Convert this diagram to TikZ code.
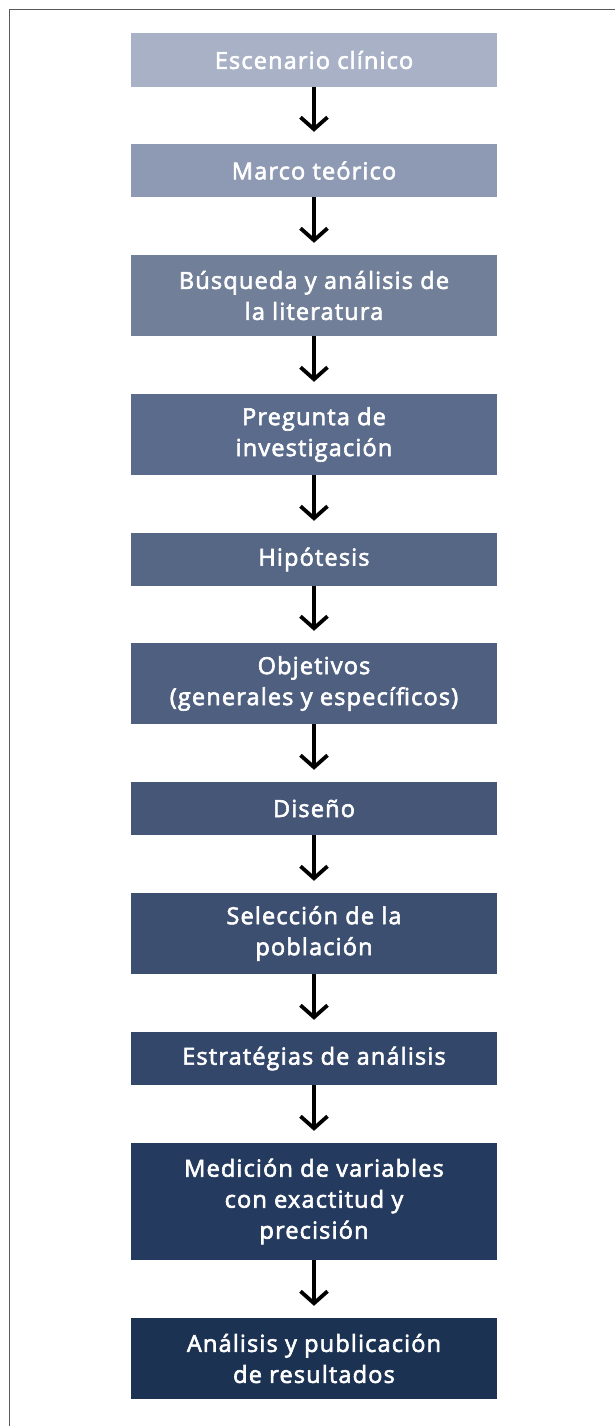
\documentclass[tikz,border=0pt]{standalone}
\usepackage{fontspec}
\setmainfont{Open Sans}
\newfontfamily\pasofont{Open Sans}[FakeBold=2.6,LetterSpace=5]
\usetikzlibrary{arrows.meta}

\definecolor{paso1}{HTML}{A9B1C6}
\definecolor{paso2}{HTML}{8E99B4}
\definecolor{paso3}{HTML}{718098}
\definecolor{paso4}{HTML}{5B6B8B}
\definecolor{paso5}{HTML}{566785}
\definecolor{paso6}{HTML}{4E5F7F}
\definecolor{paso7}{HTML}{455677}
\definecolor{paso8}{HTML}{3D4F71}
\definecolor{paso9}{HTML}{33476A}
\definecolor{paso10}{HTML}{243A5E}
\definecolor{paso11}{HTML}{1C3253}

\begin{document}
\begin{tikzpicture}[x=1pt,y=-1pt,
		paso/.style={fill=#1,text=white,minimum width=366pt,inner sep=0pt,
			align=center,font=\pasofont\fontsize{23.5}{31}\selectfont},
		flecha/.style={line width=3.4pt,shorten >=12pt,
			-{Straight Barb[length=12pt,width=27pt,line width=3.8pt]}}
	]
	\useasboundingbox (0,0) rectangle (615,1426);
	\draw[line width=1.6pt,black!65] (9.5,1426)--(9.5,9.5)--(615,9.5);

	\node[paso=paso1,minimum height=54pt] (p1) at (314,60) {Escenario clínico};
	\node[paso=paso2,minimum height=53pt] (p2) at (314,170.5) {Marco teórico};
	\node[paso=paso3,minimum height=81pt] (p3) at (314,295.5) {Búsqueda y análisis de\\la literatura};
	\node[paso=paso4,minimum height=81pt] (p4) at (314,434.5) {Pregunta de\\investigación};
	\node[paso=paso5,minimum height=53pt] (p5) at (314,559.5) {Hipótesis};
	\node[paso=paso6,minimum height=81pt] (p6) at (314,683.5) {Objetivos\\(generales y específicos)};
	\node[paso=paso7,minimum height=53pt] (p7) at (314,808.5) {Diseño};
	\node[paso=paso8,minimum height=81pt] (p8) at (314,933.5) {Selección de la\\población};
	\node[paso=paso9,minimum height=53pt] (p9) at (314,1058.5) {Estratégias de análisis};
	\node[paso=paso10,minimum height=117pt] (p10) at (314,1201.5) {Medición de variables\\con exactitud y\\precisión};
	\node[paso=paso11,minimum height=81pt] (p11) at (314,1358.5) {Análisis y publicación\\de resultados};

	\foreach \a/\b in {p1/p2,p2/p3,p3/p4,p4/p5,p5/p6,p6/p7,p7/p8,p8/p9,p9/p10,p10/p11}
		\draw[flecha] (\a) -- (\b);
\end{tikzpicture}
\end{document}
